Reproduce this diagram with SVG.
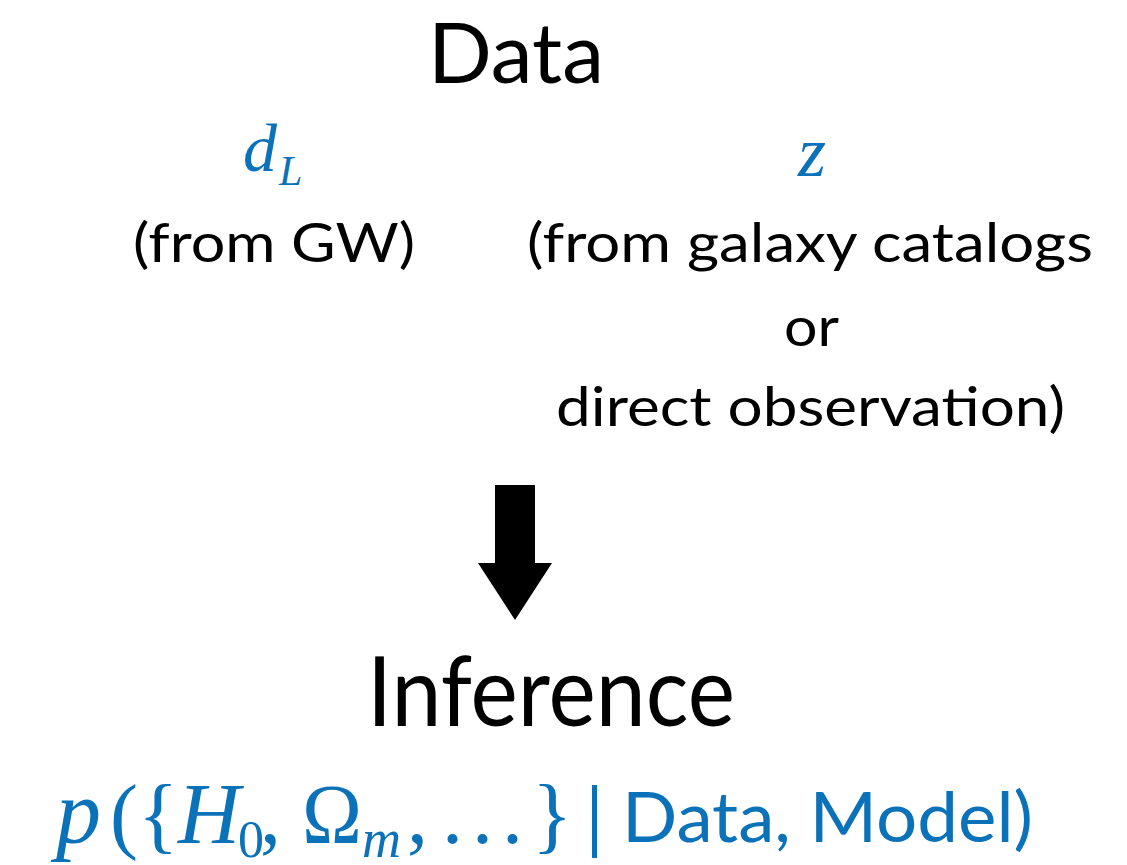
<svg xmlns="http://www.w3.org/2000/svg" width="1127" height="865" viewBox="0 0 1127 865">
<style>
.t{font-family:Lato,"Open Sans",sans-serif;fill:#000}
.m{font-family:"Liberation Serif","Times New Roman",serif;font-style:italic;fill:#0B72B9}
.mu{font-family:"Liberation Serif","Times New Roman",serif;fill:#0B72B9}
.b{font-family:Lato,"Open Sans",sans-serif;fill:#0B72B9}
</style>
<rect width="1127" height="865" fill="#fff"/>
<g id="data">
<text class="t" x="428" y="83" font-size="83" textLength="176" lengthAdjust="spacingAndGlyphs">Data</text>
</g>
<g id="dl">
<text class="m" x="243" y="171" font-size="68">d</text>
<text class="m" x="279" y="185" font-size="42">L</text>
<text class="t" x="133" y="262" font-size="55" textLength="282" lengthAdjust="spacingAndGlyphs">(from GW)</text>
</g>
<g id="z">
<text class="m" x="798" y="176" font-size="72">z</text>
<text class="t" x="527" y="262" font-size="55" textLength="566" lengthAdjust="spacingAndGlyphs">(from galaxy catalogs</text>
<text class="t" x="784" y="346" font-size="55" textLength="55" lengthAdjust="spacingAndGlyphs">or</text>
<text class="t" x="556" y="426" font-size="55" textLength="509" lengthAdjust="spacingAndGlyphs">direct observation)</text>
</g>
<g id="connectors">
<polygon points="495,485 535,485 535,563 552,563 515,620 478,563 495,563" fill="#000"/>
</g>
<g id="inference">
<text class="t" x="367" y="726" font-size="96" textLength="368" lengthAdjust="spacingAndGlyphs">Inference</text>
</g>
<g id="posterior">
<text class="m" x="56" y="843" font-size="90">p</text>
<text class="mu" x="110" y="843" font-size="84">(</text>
<text class="mu" x="138" y="843" font-size="84">{</text>
<text class="m" x="178" y="843" font-size="86">H</text>
<text class="mu" x="238" y="857" font-size="52">0</text>
<text class="mu" x="260" y="843" font-size="84">,</text>
<text class="mu" x="302" y="843" font-size="84" textLength="60" lengthAdjust="spacingAndGlyphs">Ω</text>
<text class="m" x="362" y="857" font-size="54">m</text>
<text class="mu" x="407" y="843" font-size="84">,</text>
<text class="mu" x="442 472 502" y="843" font-size="84">...</text>
<text class="mu" x="532" y="843" font-size="84">}</text>
<rect x="592" y="785" width="5" height="73" fill="#0B72B9"/>
<text class="b" x="622" y="842" font-size="70" textLength="411" lengthAdjust="spacingAndGlyphs">Data, Model)</text>
</g>
</svg>
